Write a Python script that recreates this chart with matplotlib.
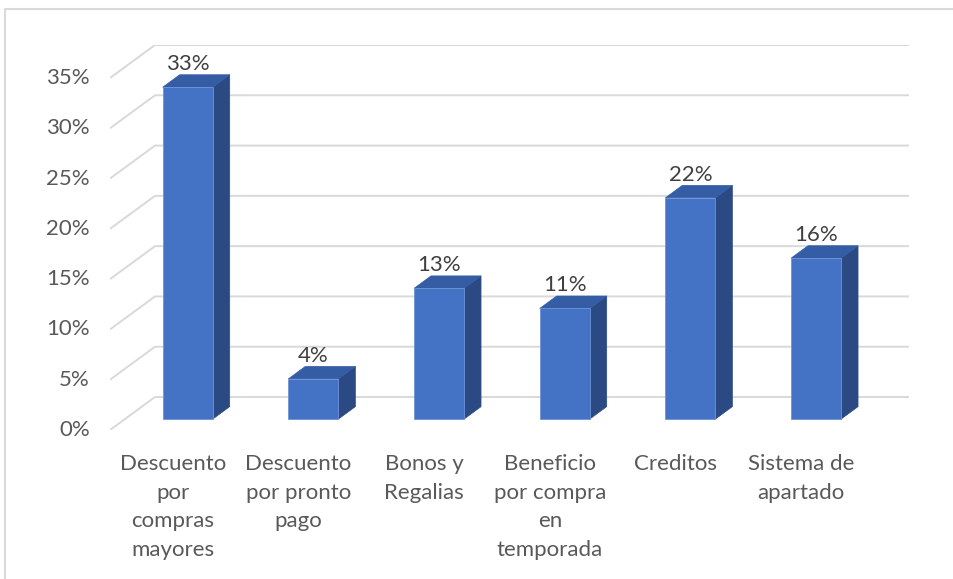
import matplotlib.pyplot as plt
from matplotlib.lines import Line2D
from matplotlib.patches import Polygon

categories = [
    "Descuento\npor\ncompras\nmayores",
    "Descuento\npor pronto\npago",
    "Bonos y\nRegalias",
    "Beneficio\npor compra\nen\ntemporada",
    "Creditos",
    "Sistema de\napartado",
]
values = [33, 4, 13, 11, 22, 16]
y_ticks = [0, 5, 10, 15, 20, 25, 30, 35]

# pseudo-3D look: depth of the floor in category / percent units
DEPTH_X = 0.358
DEPTH_Y = 3.28
BAR_FRONT = 0.33   # fraction of depth where the bar front face sits
BAR_BACK = 0.708
BAR_W = 0.398

FRONT = "#4472C4"
SIDE = "#2B4A84"
TOP = "#355DA6"
GRID = "#D9D9D9"
TXT = "#595959"

plt.rcParams["font.family"] = ["Lato", "DejaVu Sans"]
FS = 16

W, H = 954, 579
fig = plt.figure(figsize=(W / 100, H / 100), dpi=100)
left, right, top, bottom = 110, 909, 45, 430
ax = fig.add_axes([left / W, 1 - bottom / H, (right - left) / W, (bottom - top) / H])
n = len(values)
ax.set_xlim(0, n + DEPTH_X)
ax.set_ylim(0, y_ticks[-1] + DEPTH_Y)
ax.axis("off")

# walls: diagonal floor-to-wall lines plus back wall gridlines
for v in y_ticks:
    ax.plot([0, DEPTH_X, n + DEPTH_X], [v, v + DEPTH_Y, v + DEPTH_Y],
            color=GRID, lw=1.4, solid_capstyle="butt", zorder=1)
    ax.text(-0.16, v, f"{v}%", ha="right", va="center", fontsize=FS, color=TXT)

ox0, oy0 = BAR_FRONT * DEPTH_X, BAR_FRONT * DEPTH_Y
ox1, oy1 = BAR_BACK * DEPTH_X, BAR_BACK * DEPTH_Y
dxs, dys = ox1 - ox0, oy1 - oy0

for i, v in enumerate(values):
    x0 = i + 0.5 - BAR_W / 2 + ox0
    x1 = x0 + BAR_W
    side = [(x1, oy0), (x1 + dxs, oy1), (x1 + dxs, v + oy1), (x1, v + oy0)]
    topf = [(x0, v + oy0), (x1, v + oy0), (x1 + dxs, v + oy1), (x0 + dxs, v + oy1)]
    front = [(x0, oy0), (x1, oy0), (x1, v + oy0), (x0, v + oy0)]
    ax.add_patch(Polygon(side, closed=True, facecolor=SIDE, edgecolor=SIDE, lw=0.5, zorder=3))
    ax.add_patch(Polygon(topf, closed=True, facecolor=TOP, edgecolor=TOP, lw=0.5, zorder=3))
    ax.add_patch(Polygon(front, closed=True, facecolor=FRONT, edgecolor="#6F93D6", lw=0.6, zorder=4))
    ax.text(x0 + BAR_W / 2, v + oy0 + 2.3, f"{v}%", ha="center", va="center",
            fontsize=FS, color="#404040", zorder=5)

for i, lab in enumerate(categories):
    ax.text(i + 0.5, -2.4, lab, ha="center", va="top", fontsize=FS,
            color=TXT, linespacing=1.53, clip_on=False)

# chart area border (left and top edges)
fig.add_artist(Line2D([5.5 / W, 5.5 / W, 1.0], [0.0, 1 - 8.5 / H, 1 - 8.5 / H],
                      transform=fig.transFigure, color=GRID, lw=1.5))

fig.savefig("out.png", dpi=100, facecolor="white")
